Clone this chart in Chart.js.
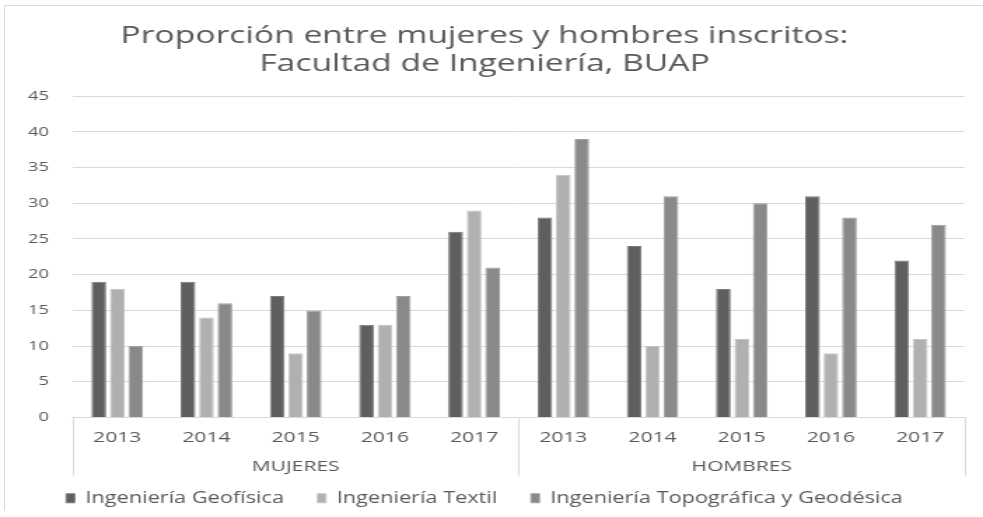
<!DOCTYPE html>
<html>
<head>
<meta charset="utf-8">
<script src="https://cdn.jsdelivr.net/npm/chart.js@4"></script>
<style>
  html, body { margin: 0; padding: 0; background: #fff; }
  #wrap { width: 983px; height: 517px; position: relative; overflow: hidden; }
  /* the original picture is stretched sideways, so the canvas is drawn narrow and widened */
  #chart { width: 983px !important; height: 517px !important; display: block; }
  #frame { position: absolute; left: 4px; top: 5px; right: -2px; bottom: 6px; border-left: 1px solid #d9d9d9; border-top: 1px solid #d9d9d9; pointer-events: none; }
</style>
</head>
<body>
<div id="wrap">
  <canvas id="chart" width="702" height="517"></canvas>
  <div id="frame"></div>
</div>
<script>
const years = ["2013", "2014", "2015", "2016", "2017"];
const groups = ["MUJERES", "HOMBRES"];
const geofisica = [19, 19, 17, 13, 26, 28, 24, 18, 31, 22];
const textil = [18, 14, 9, 13, 29, 34, 10, 11, 9, 11];
const topografica = [10, 16, 15, 17, 21, 39, 31, 30, 28, 27];

const labels = groups.flatMap(() => years);
const textColor = "#595959";
const gridColor = "#d9d9d9";
const font = "'Open Sans', 'Liberation Sans', sans-serif";

// draws the MUJERES / HOMBRES row and the group separators under the years
const groupAxis = {
  id: "groupAxis",
  afterDraw(chart) {
    const { ctx, chartArea, scales } = chart;
    const x = scales.x;
    const per = years.length;
    const half = (x.getPixelForValue(1) - x.getPixelForValue(0)) / 2;
    const top = chartArea.bottom;
    const bottom = top + 58;
    ctx.save();
    ctx.strokeStyle = gridColor;
    ctx.lineWidth = 1;
    for (let g = 0; g <= groups.length; g++) {
      const px = g === groups.length
        ? x.getPixelForValue(labels.length - 1) + half
        : x.getPixelForValue(g * per) - half;
      ctx.beginPath();
      ctx.moveTo(Math.round(px) + 0.5, top);
      ctx.lineTo(Math.round(px) + 0.5, bottom);
      ctx.stroke();
    }
    ctx.fillStyle = textColor;
    ctx.font = "15px " + font;
    ctx.textAlign = "center";
    ctx.textBaseline = "middle";
    groups.forEach((name, g) => {
      const a = x.getPixelForValue(g * per) - half;
      const b = x.getPixelForValue(g * per + per - 1) + half;
      ctx.fillText(name, (a + b) / 2, top + 49);
    });
    ctx.restore();
  }
};

new Chart(document.getElementById("chart"), {
  type: "bar",
  data: {
    labels,
    datasets: [
      { label: "Ingeniería Geofísica", data: geofisica, backgroundColor: "#5f5f5f", borderColor: "#7a7a7a", borderWidth: 1 },
      { label: "Ingeniería Textil", data: textil, backgroundColor: "#b0b0b0", borderColor: "#c4c4c4", borderWidth: 1 },
      { label: "Ingeniería Topográfica y Geodésica", data: topografica, backgroundColor: "#898989", borderColor: "#a0a0a0", borderWidth: 1 },
    ],
  },
  options: {
    responsive: false,
    animation: false,
    devicePixelRatio: 1,
    categoryPercentage: 0.62,
    barPercentage: 0.8,
    layout: { padding: { left: 3, right: 13, top: 22, bottom: 1 } },
    scales: {
      y: {
        min: 0, max: 45,
        ticks: { stepSize: 5, color: textColor, font: { size: 13, family: font }, padding: 17 },
        grid: { color: gridColor, drawTicks: false, tickLength: 0 },
        border: { display: false },
      },
      x: {
        ticks: { color: textColor, font: { size: 15, family: font }, padding: 3 },
        grid: { display: false },
        border: { color: gridColor },
        afterFit(scale) { scale.height += 17; },
      },
    },
    plugins: {
      title: {
        display: true,
        text: ["Proporción entre mujeres y hombres inscritos:", "Facultad de Ingeniería, BUAP"],
        color: textColor,
        font: { size: 24, family: font, weight: "normal", lineHeight: 1.17 },
        padding: { top: 0, bottom: 18 },
      },
      legend: {
        position: "bottom",
        labels: { color: textColor, font: { size: 15.5, family: font }, boxWidth: 6, boxHeight: 9, padding: 24 },
      },
      tooltip: { enabled: false },
    },
  },
  plugins: [groupAxis],
});
</script>
</body>
</html>
